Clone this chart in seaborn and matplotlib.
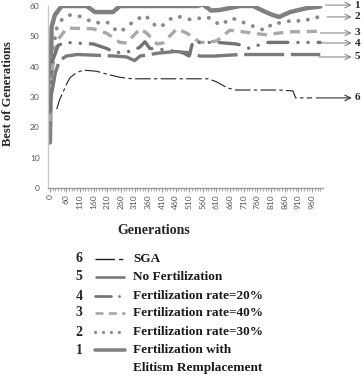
import matplotlib
matplotlib.use("Agg")
import matplotlib.pyplot as plt
from matplotlib.lines import Line2D
import seaborn as sns
import pandas as pd

# ---- data (generation, best fitness) ----
gen_1 = [0, 6, 18, 43, 134, 165, 231, 256, 470, 540, 560, 590, 623, 696, 744, 790, 817, 840, 879, 941, 990]
fit_1 = [15, 53, 57, 60, 60, 58, 58, 60, 60, 60, 60.5, 58.5, 58.7, 60, 60, 58, 57, 56.4, 58, 59.3, 59.8]

gen_2 = [0, 10, 25, 43, 66, 92, 116, 139, 165, 208, 231, 256, 281, 304, 348, 392, 414, 451, 476, 520,
         568, 586, 623, 667, 714, 762, 788, 817, 842, 897, 923, 971, 996]
fit_2 = [20, 45, 52.7, 55.4, 57, 57, 56.4, 55.4, 54.4, 54.8, 52.7, 51.4, 53, 54.8, 57, 53, 53.7, 56.4, 56.4, 55.4,
         56.4, 56, 53.7, 56, 54.4, 52.7, 52, 54.4, 54.4, 55.4, 54.8, 56.4, 56]

gen_3 = [0, 10, 30, 62, 158, 208, 256, 281, 330, 355, 392, 414, 465, 502, 549, 575, 611, 659, 707, 744,
         795, 831, 879, 916, 989]
fit_3 = [22, 40, 49, 52.7, 52.5, 51, 48, 47.8, 52.5, 51, 47.5, 47.8, 52.5, 51, 48, 48, 48.5, 52, 51.5, 51,
         50.5, 51, 51.5, 51.5, 51.7]

gen_4 = [0, 10, 30, 55, 158, 208, 240, 270, 300, 330, 348, 366, 430, 490, 510, 524, 540, 611, 680, 707,
         730, 760, 800, 850, 900, 990]
fit_4 = [25, 42, 47, 48, 47.5, 46, 44.5, 45, 45, 46.5, 48.2, 46, 45.5, 44.5, 43.5, 48.5, 48, 48, 47.5, 47,
         46, 47, 48, 48, 48, 48]

gen_5 = [0, 10, 20, 35, 60, 100, 158, 240, 281, 310, 330, 400, 460, 520, 549, 600, 700, 800, 860, 900, 990]
fit_5 = [28, 33, 38, 42, 43.5, 44, 43.8, 43.5, 43.2, 42, 43.5, 44.5, 45, 44.5, 43.5, 43.5, 44, 44, 44, 44, 44]

gen_6 = [25, 35, 45, 55, 65, 75, 90, 110, 130, 170, 210, 256, 300, 580, 610, 650, 680, 840, 890, 900, 960]
fit_6 = [26, 29, 31, 33, 35, 36.5, 37.5, 38.5, 38.8, 38.5, 37.5, 36.5, 36, 36, 35, 33, 32.3, 32.3, 32, 29.7, 29.7]

series_ids = ["1", "2", "3", "4", "5", "6"]
legend_order = ["6", "5", "4", "3", "2", "1"]
legend_labels = {
    "6": "SGA",
    "5": "No Fertilization",
    "4": "Fertilization rate=20%",
    "3": "Fertilization rate=40%",
    "2": "Fertilization rate=30%",
    "1": "Fertilization with",
}
legend_label_1_line2 = "Elitism Remplacement"
xtick_vals = [0, 60, 110, 160, 210, 260, 310, 360, 410, 460, 510, 560, 610, 660, 710, 760, 810, 860, 910, 960]
ytick_vals = [0, 10, 20, 30, 40, 50, 60]

frames = []
for sid, g, f in zip(series_ids, [gen_1, gen_2, gen_3, gen_4, gen_5, gen_6],
                     [fit_1, fit_2, fit_3, fit_4, fit_5, fit_6]):
    frames.append(pd.DataFrame({"generation": g, "best": f, "series": sid}))
df = pd.concat(frames, ignore_index=True)

# line styles (Excel-like greys)
styles = {
    "1": dict(color="#808080", lw=3.2, ls="-"),
    "2": dict(color="#8a8a8a", lw=2.8, ls=(0, (0.05, 2.5)), dash_capstyle="round"),
    "3": dict(color="#a8a8a8", lw=2.4, ls=(0, (3, 2))),
    "4": dict(color="#737373", lw=2.4, ls=(0, (6, 3, 0.05, 3, 0.05, 3)), dash_capstyle="round"),
    "5": dict(color="#7a7a7a", lw=2.4, ls=(0, (12, 2))),
    "6": dict(color="#202020", lw=0.8, ls=(0, (14, 3, 3, 3))),
}

sns.set_style("white")
plt.rcParams["font.family"] = ["DejaVu Sans"]

fig = plt.figure(figsize=(3.64, 3.80), dpi=100)
ax = fig.add_axes([48 / 364, 1 - 188 / 380, 275 / 364, 182 / 380])

for sid in series_ids:
    st = styles[sid]
    sub = df[df["series"] == sid]
    extra = {k: v for k, v in st.items() if k not in ("color", "lw", "ls")}
    sns.lineplot(data=sub, x="generation", y="best", ax=ax, color=st["color"],
                 linewidth=st["lw"], linestyle=st["ls"], legend=False, **extra)

ax.set_xlim(-7, 1000)
ax.set_ylim(0, 60)

# axes cosmetics
for side in ("top", "right"):
    ax.spines[side].set_visible(False)
ax.spines["left"].set_color("#c8c8c8")
ax.spines["bottom"].set_color("#9a9a9a")
ax.spines["left"].set_linewidth(1.0)
ax.spines["bottom"].set_linewidth(1.0)

ax.set_yticks(ytick_vals)
ax.set_yticklabels([str(v) for v in ytick_vals], fontsize=6, color="#555555", family="Lato")
ax.tick_params(axis="y", length=0, pad=6)

ax.set_xticks(xtick_vals)
ax.set_xticklabels([str(v) for v in xtick_vals], rotation=90, fontsize=6, color="#555555", family="Lato")
ax.set_xticks(range(0, 1000, 10), minor=True)
ax.tick_params(axis="x", which="major", length=3, color="#9a9a9a", pad=1.5, direction="out", bottom=True)
ax.tick_params(axis="x", which="minor", length=2, color="#9a9a9a", direction="out", bottom=True)

ax.set_ylabel("Best of Generations", fontsize=9, fontweight="bold", family="Liberation Serif")
ax.yaxis.set_label_coords(-0.122, 0.52)
ax.set_xlabel("Generations", fontsize=10, fontweight="bold", family="Liberation Serif")
ax.xaxis.set_label_coords(0.385, -0.2)

# arrows and numbers at the right end of each curve
arrow_y = {"1": 60.3, "2": 56.4, "3": 51.1, "4": 47.8, "5": 43.2, "6": 29.7}
arrow_start = {"1": 1010, "2": 1015, "3": 990, "4": 990, "5": 985, "6": 975}
for sid in series_ids:
    y = arrow_y[sid]
    col = "#303030" if sid == "6" else "#8a8a8a"
    ax.annotate("", xy=(1105, y), xytext=(arrow_start[sid], y),
                arrowprops=dict(arrowstyle="->", color=col, lw=0.8, shrinkA=0, shrinkB=0),
                annotation_clip=False)
    ax.text(1115, y, sid, fontsize=8, fontweight="bold", family="Liberation Serif",
            va="center", ha="left", clip_on=False)

# hand-made legend block under the chart
row_y = [259, 277, 296, 313, 332, 350]
for sid, py in zip(legend_order, row_y):
    yf = 1 - py / 380
    st = styles[sid]
    fig.text(79 / 364, yf, sid, fontsize=10, fontweight="bold", family="Liberation Serif",
             ha="center", va="center")
    lw = st["lw"] * 0.8 if sid != "6" else 1.0
    extra = {k: v for k, v in st.items() if k not in ("color", "lw", "ls")}
    fig.add_artist(Line2D([95 / 364, 125 / 364], [yf, yf], color=st["color"], linewidth=lw,
                          linestyle=st["ls"], transform=fig.transFigure, **extra))
    fig.text(133 / 364, yf, legend_labels[sid], fontsize=9.5, fontweight="bold",
             family="Liberation Serif", color="#1a1a1a", ha="left", va="center")
fig.text(133 / 364, 1 - 368 / 380, legend_label_1_line2, fontsize=9.5, fontweight="bold",
         family="Liberation Serif", color="#1a1a1a", ha="left", va="center")

fig.savefig("out.png", dpi=100)
